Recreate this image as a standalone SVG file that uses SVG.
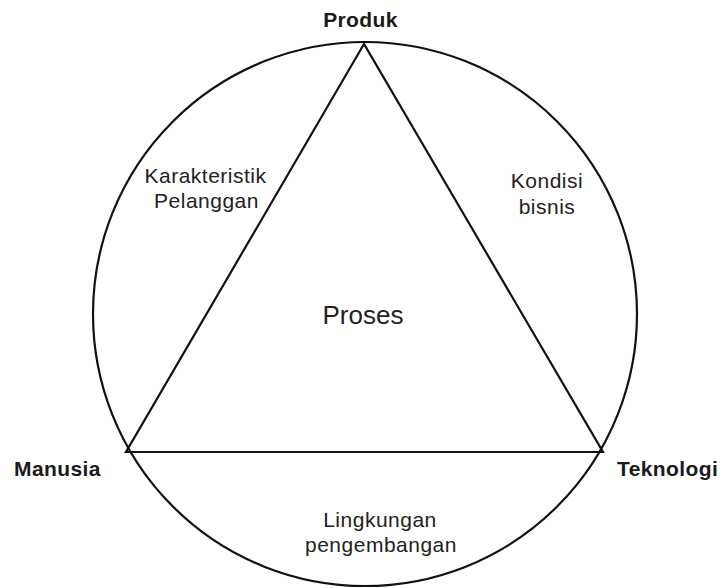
<svg xmlns="http://www.w3.org/2000/svg" width="724" height="588" viewBox="0 0 724 588">
  <style>
    .edge { fill: none; stroke: #111; stroke-width: 2.2; stroke-linejoin: miter; }
    .corner { font-family: "Liberation Sans", Arial, sans-serif; font-weight: bold; font-size: 21px; letter-spacing: 0.4px; fill: #1a1a1a; }
    .area { font-family: "Liberation Sans", Arial, sans-serif; font-size: 21px; letter-spacing: 0.5px; fill: #222; text-anchor: middle; }
    .core { font-family: "Liberation Sans", Arial, sans-serif; font-size: 26px; fill: #222; text-anchor: middle; }
  </style>
  <rect width="724" height="588" fill="#fff"/>

  <!-- outer circle and inscribed triangle -->
  <g id="connectors">
    <circle class="edge" cx="365" cy="314" r="272"/>
    <polygon class="edge" points="364,44 126,452 603,452"/>
  </g>

  <!-- corner labels -->
  <g id="produk">
    <text class="corner" x="360.5" y="27" text-anchor="middle">Produk</text>
  </g>
  <g id="manusia">
    <text class="corner" x="14" y="476">Manusia</text>
  </g>
  <g id="teknologi">
    <text class="corner" x="617" y="476">Teknologi</text>
  </g>

  <!-- region labels -->
  <g id="karakteristik-pelanggan">
    <text class="area" x="205.5" y="183">Karakteristik</text>
    <text class="area" x="206.5" y="208">Pelanggan</text>
  </g>
  <g id="kondisi-bisnis">
    <text class="area" x="547" y="188">Kondisi</text>
    <text class="area" x="547" y="214">bisnis</text>
  </g>
  <g id="proses">
    <text class="core" x="363" y="324">Proses</text>
  </g>
  <g id="lingkungan-pengembangan">
    <text class="area" x="380" y="527">Lingkungan</text>
    <text class="area" x="381" y="552">pengembangan</text>
  </g>
</svg>
